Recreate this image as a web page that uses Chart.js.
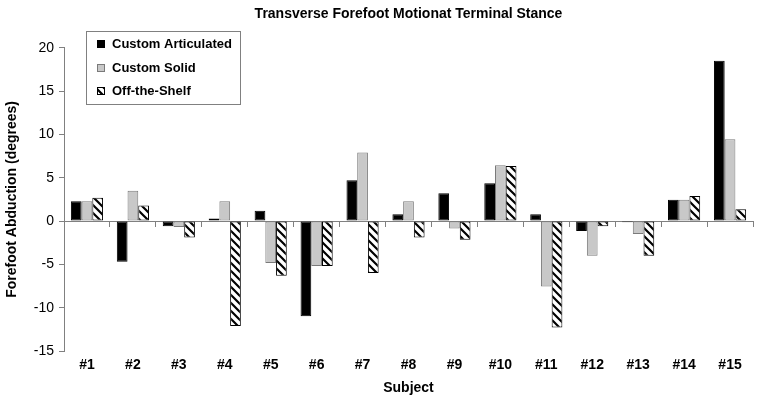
<!DOCTYPE html>
<html>
<head>
<meta charset="utf-8">
<title>Transverse Forefoot Motion</title>
<script src="https://cdn.jsdelivr.net/npm/chart.js@4.4.0/dist/chart.umd.min.js"></script>
<style>
    html, body { margin: 0; padding: 0; background: #fff; }
    #wrap { width: 762px; height: 405px; }
</style>
</head>
<body>
<div id="wrap"><canvas id="motionChart" width="762" height="405"></canvas></div>
<script>
// Values (degrees)
const subjects = ['#1', '#2', '#3', '#4', '#5', '#6', '#7', '#8', '#9', '#10', '#11', '#12', '#13', '#14', '#15'];
const customArticulated = [2.3, -4.7, -0.6, 0.3, 1.2, -11.0, 4.7, 0.8, 3.2, 4.35, 0.8, -1.15, -0.15, 2.45, 18.5];
const customSolid = [2.3, 3.5, -0.7, 2.3, -4.85, -5.2, 7.9, 2.3, -0.85, 6.45, -7.55, -4.0, -1.5, 2.45, 9.45];
const offTheShelf = [2.7, 1.8, -1.9, -12.1, -6.3, -5.2, -6.0, -1.9, -2.15, 6.35, -12.3, -0.6, -4.0, 2.9, 1.35];
const yTicks = [-15, -10, -5, 0, 5, 10, 15, 20];

const FONT = '"Liberation Sans", Arial, Helvetica, sans-serif';
const AXIS_GRAY = '#808080';

// Diagonal hatch ("\") for the off-the-shelf bars
function makeHatch() {
    const c = document.createElement('canvas');
    c.width = 8;
    c.height = 8;
    const g = c.getContext('2d');
    g.fillStyle = '#fff';
    g.fillRect(0, 0, 8, 8);
    g.strokeStyle = '#000';
    g.lineWidth = 2.2;
    g.beginPath();
    g.moveTo(-2, -2); g.lineTo(10, 10);
    g.moveTo(-2, 6); g.lineTo(2, 10);
    g.moveTo(6, -2); g.lineTo(10, 2);
    g.stroke();
    return g.createPattern(c, 'repeat');
}

// Boxed legend drawn inside the plot, like the original
const boxLegend = {
    id: 'boxLegend',
    afterDraw(chart) {
        const ctx = chart.ctx;
        ctx.save();
        ctx.fillStyle = '#fff';
        ctx.fillRect(86.5, 31.5, 154, 73);
        ctx.strokeStyle = AXIS_GRAY;
        ctx.lineWidth = 1;
        ctx.strokeRect(86.5, 31.5, 154, 73);
        ctx.font = 'bold 13px ' + FONT;
        ctx.textBaseline = 'middle';
        chart.data.datasets.forEach((ds, i) => {
            const y = 44 + i * 23.7;
            ctx.fillStyle = ds.backgroundColor;
            ctx.fillRect(97.5, Math.round(y) - 3.5, 7, 7);
            ctx.strokeStyle = ds.borderColor;
            ctx.strokeRect(97.5, Math.round(y) - 3.5, 7, 7);
            ctx.fillStyle = '#000';
            ctx.fillText(ds.label, 112, y + 0.5);
        });
        ctx.restore();
    }
};

const ctx = document.getElementById('motionChart').getContext('2d');

new Chart(ctx, {
    type: 'bar',
    data: {
        labels: subjects,
        datasets: [{
            label: 'Custom Articulated',
            data: customArticulated,
            backgroundColor: '#000',
            borderColor: '#000',
            borderWidth: 1,
            borderSkipped: false
        }, {
            label: 'Custom Solid',
            data: customSolid,
            backgroundColor: '#c8c8c8',
            borderColor: '#7a7a7a',
            borderWidth: 1,
            borderSkipped: false
        }, {
            label: 'Off-the-Shelf',
            data: offTheShelf,
            backgroundColor: makeHatch(),
            borderColor: '#000',
            borderWidth: 1,
            borderSkipped: false
        }]
    },
    options: {
        responsive: false,
        animation: false,
        categoryPercentage: 0.7,
        barPercentage: 1.0,
        layout: { padding: { left: 0, right: 9, top: 0, bottom: 0 } },
        plugins: {
            legend: { display: false },
            tooltip: { enabled: false },
            title: {
                display: true,
                fullSize: false,
                text: 'Transverse Forefoot Motionat Terminal Stance',
                color: '#000',
                font: { family: FONT, size: 14, weight: 'bold' },
                padding: { top: 6, bottom: 25 }
            }
        },
        scales: {
            x: {
                grid: { display: false, drawTicks: false },
                border: { display: false },
                ticks: {
                    color: '#000',
                    padding: 6,
                    font: { family: FONT, size: 14, weight: 'bold' }
                },
                title: {
                    display: true,
                    text: 'Subject',
                    color: '#000',
                    font: { family: FONT, size: 14, weight: 'bold' },
                    padding: { top: 0, bottom: 8 }
                },
                afterFit(scale) { scale.height = 54; }
            },
            // zero line with tick marks between subjects
            xZero: {
                type: 'category',
                axis: 'x',
                position: { y: 0 },
                offset: true,
                grid: {
                    display: true,
                    offset: true,
                    drawOnChartArea: false,
                    drawTicks: true,
                    tickLength: 5,
                    color: AXIS_GRAY
                },
                border: { display: true, color: AXIS_GRAY, width: 1 },
                ticks: { display: false }
            },
            y: {
                min: -15,
                max: 20,
                afterBuildTicks(scale) {
                    scale.ticks = yTicks.map(v => ({ value: v }));
                },
                grid: {
                    display: true,
                    drawOnChartArea: false,
                    drawTicks: true,
                    tickLength: 5,
                    color: AXIS_GRAY
                },
                border: { display: true, color: AXIS_GRAY, width: 1 },
                ticks: {
                    color: '#000',
                    padding: 5,
                    font: { family: FONT, size: 14 }
                },
                title: {
                    display: true,
                    text: 'Forefoot Abduction (degrees)',
                    color: '#000',
                    font: { family: FONT, size: 14, weight: 'bold' },
                    padding: { top: 4, bottom: 0 }
                },
                afterFit(scale) { scale.width = 64; }
            }
        }
    },
    plugins: [boxLegend]
});
</script>
</body>
</html>
